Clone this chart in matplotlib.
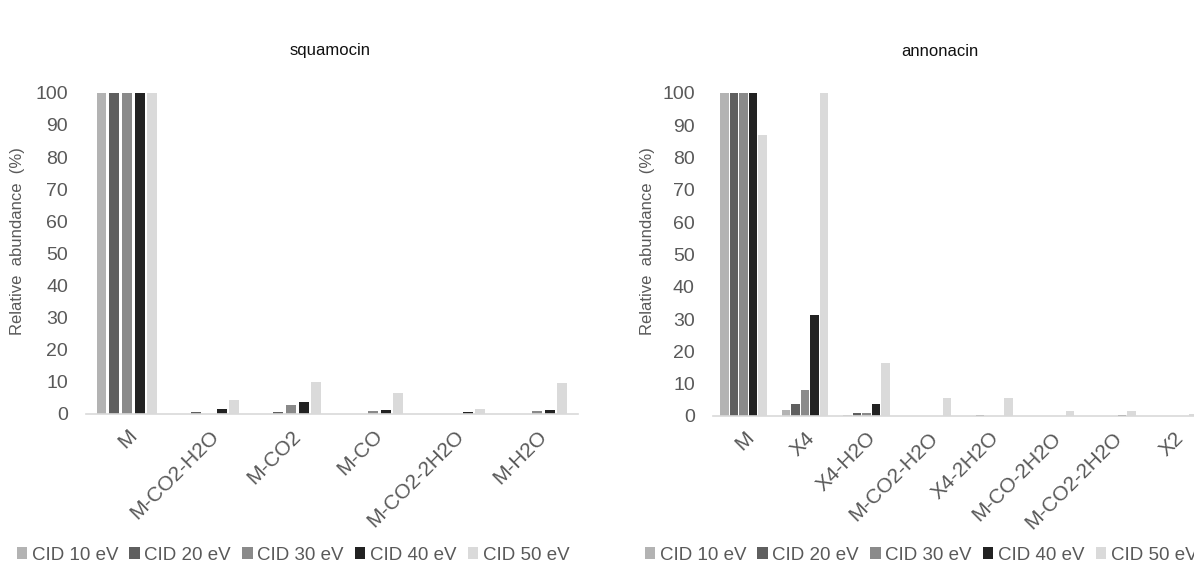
"""Relative abundance of fragment ions for squamocin and annonacin"""

import matplotlib
matplotlib.use("Agg")
import matplotlib.pyplot as plt
from matplotlib.patches import Patch
import numpy as np

plt.rcParams["font.family"] = ["Liberation Sans", "DejaVu Sans"]

series_names = ["CID 10 eV", "CID 20 eV", "CID 30 eV", "CID 40 eV", "CID 50 eV"]
series_colors = ["#b3b3b3", "#5f5f5f", "#8a8a8a", "#222222", "#dadada"]

# squamocin
squamocin_ions = ["M", "M-CO2-H2O", "M-CO2", "M-CO", "M-CO2-2H2O", "M-H2O"]
squamocin_10 = [100, 0, 0, 0, 0, 0]
squamocin_20 = [100, 0.5, 0.5, 0, 0, 0]
squamocin_30 = [100, 0, 2.7, 0.8, 0, 0.8]
squamocin_40 = [100, 1.5, 3.8, 1.1, 0.5, 1.1]
squamocin_50 = [100, 4.5, 9.9, 6.4, 1.6, 9.7]

# annonacin
annonacin_ions = ["M", "X4", "X4-H2O", "M-CO2-H2O", "X4-2H2O",
                  "M-CO-2H2O", "M-CO2-2H2O", "X2"]
annonacin_10 = [100, 1.9, 0.4, 0, 0, 0, 0, 0]
annonacin_20 = [100, 3.7, 0.8, 0, 0.4, 0, 0, 0]
annonacin_30 = [100, 8.0, 0.8, 0, 0, 0, 0, 0]
annonacin_40 = [100, 31.2, 3.7, 0, 0, 0, 0.4, 0]
annonacin_50 = [87, 100, 16.5, 5.5, 5.5, 1.5, 1.5, 0.5]

TEXT_GREY = "#595959"
AXIS_GREY = "#d9d9d9"


def draw_panel(ax, ions, values, bar_width, pitch=0.155):
    x = np.arange(len(ions))
    for i, (vals, color) in enumerate(zip(values, series_colors)):
        ax.bar(x + (i - 2) * pitch, vals, width=bar_width, color=color,
               linewidth=0)
    ax.set_xlim(-0.5, len(ions) - 0.5)
    ax.set_ylim(0, 100)
    ax.set_yticks(range(0, 101, 10))
    ax.set_xticks(x)
    ax.set_xticklabels(ions, rotation=45, ha="right", rotation_mode="anchor")
    for side in ("left", "right", "top"):
        ax.spines[side].set_visible(False)
    ax.spines["bottom"].set_color(AXIS_GREY)
    ax.spines["bottom"].set_linewidth(1.2)
    ax.tick_params(axis="both", length=0, colors=TEXT_GREY)
    ax.tick_params(axis="y", pad=13, labelsize=14)
    ax.tick_params(axis="x", pad=9, labelsize=15)
    ax.set_ylabel("Relative  abundance  (%)", fontsize=12, color=TEXT_GREY)


fig = plt.figure(figsize=(11.94, 5.73), dpi=100)

ax1 = fig.add_axes([0.072, 0.2775, 0.412, 0.5605])
draw_panel(ax1, squamocin_ions,
           [squamocin_10, squamocin_20, squamocin_30, squamocin_40, squamocin_50],
           bar_width=0.12)
ax1.yaxis.set_label_coords(-0.124, 0.54)

ax2 = fig.add_axes([0.597, 0.274, 0.412, 0.564])
draw_panel(ax2, annonacin_ions,
           [annonacin_10, annonacin_20, annonacin_30, annonacin_40, annonacin_50],
           bar_width=0.135)
ax2.yaxis.set_label_coords(-0.117, 0.54)

fig.text(330 / 1194, 1 - 51 / 573, "squamocin", ha="center", va="center",
         fontsize=12, color="#111111")
fig.text(940 / 1194, 1 - 51 / 573, "annonacin", ha="center", va="center",
         fontsize=12, color="#111111")

# the reference picture is cropped on the right, so the second legend runs off
handles = [Patch(facecolor=c, edgecolor="none") for c in series_colors]
for xc in (293 / 1194, 921 / 1194):
    fig.legend(handles, series_names, loc="center", ncol=5,
               bbox_to_anchor=(xc, 18 / 573), frameon=False, fontsize=13.5,
               labelcolor=TEXT_GREY, handlelength=0.55, handleheight=0.6,
               handletextpad=0.25, columnspacing=0.6)

fig.savefig("out.png", dpi=100)
